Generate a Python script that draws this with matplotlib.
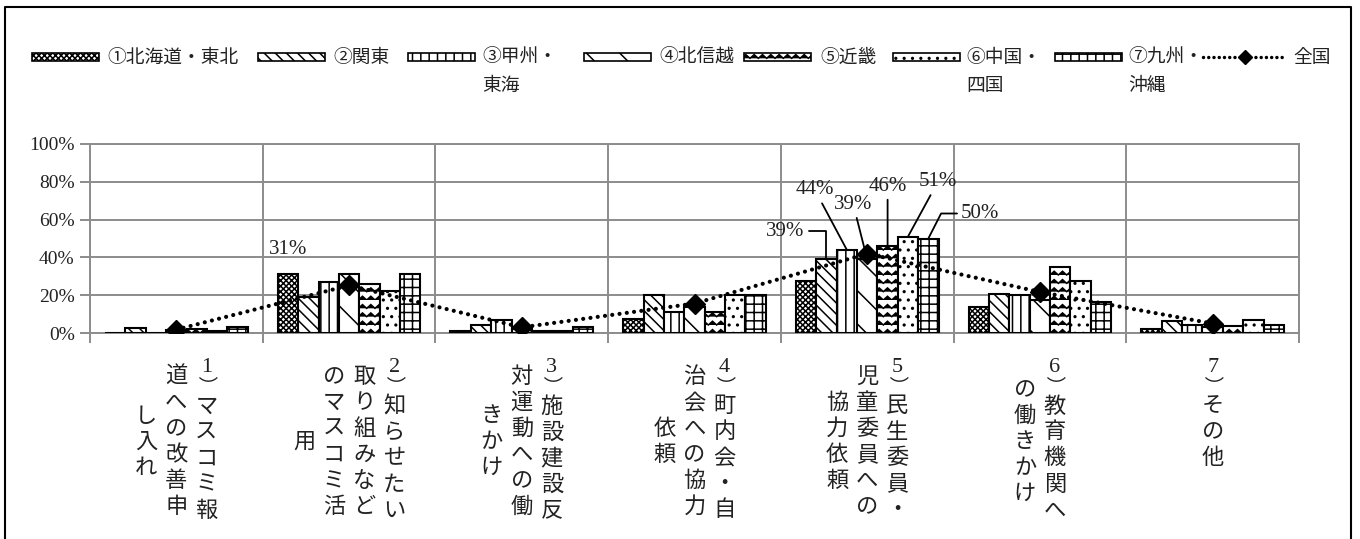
import numpy as np
import matplotlib
matplotlib.use("Agg")
import matplotlib.pyplot as plt
import matplotlib.hatch as mhatch
from matplotlib.path import Path
from matplotlib.patches import Rectangle
from matplotlib.lines import Line2D
from matplotlib.ticker import PercentFormatter

# --- data -------------------------------------------------------------
regions = ["①北海道・東北", "②関東", "③甲州・\n東海", "④北信越",
           "⑤近畿", "⑥中国・\n四国", "⑦九州・\n沖縄"]
national_label = "全国"

# category labels, already broken into vertical columns (right to left)
categories = [
    ["1）マスコミ報", "道への改善申", "し入れ"],
    ["2）知らせたい", "取り組みなど", "のマスコミ活", "用"],
    ["3）施設建設反", "対運動への働", "きかけ"],
    ["4）町内会・自", "治会への協力", "依頼"],
    ["5）民生委員・", "児童委員への", "協力依頼"],
    ["6）教育機関へ", "の働きかけ"],
    ["7）その他"],
]

hokkaido_tohoku = [0.00, 0.31, 0.01, 0.075, 0.275, 0.137, 0.02]
kanto           = [0.025, 0.19, 0.04, 0.20, 0.39, 0.208, 0.064]
koshu_tokai     = [0.00, 0.27, 0.07, 0.11, 0.44, 0.20, 0.044]
hokushinetsu    = [0.015, 0.31, 0.02, 0.14, 0.39, 0.174, 0.03]
kinki           = [0.02, 0.26, 0.01, 0.11, 0.46, 0.347, 0.035]
chugoku_shikoku = [0.01, 0.22, 0.01, 0.20, 0.51, 0.275, 0.068]
kyushu_okinawa  = [0.03, 0.31, 0.03, 0.20, 0.50, 0.164, 0.04]
national        = [0.018, 0.252, 0.03, 0.156, 0.42, 0.217, 0.05]

series = [hokkaido_tohoku, kanto, koshu_tokai, hokushinetsu,
          kinki, chugoku_shikoku, kyushu_okinawa]

# which bars get a value label: (series index, category index, dx px, dy px, leader style)
labelled = [
    (0, 1, 0, 25, None),
    (1, 4, -41, 28, "angle,angleA=0,angleB=90,rad=0"),
    (2, 4, -32, 60, "arc3"),
    (3, 4, -14, 55, "arc3"),
    (4, 4, 0, 60, "arc3"),
    (5, 4, 30, 55, "arc3"),
    (6, 4, 52, 25, "angle,angleA=0,angleB=63,rad=0"),
]


# zigzag hatch for the 近畿 series (takes over the "O" hatch letter)
class ZigZagHatch(mhatch.HatchPatternBase):
    def __init__(self, hatch, density):
        self.num_lines = int(hatch.count('O') * density)
        self.per = 2 * self.num_lines + 1
        self.num_vertices = self.num_lines * self.per

    def set_vertices_and_codes(self, vertices, codes):
        n, per = self.num_lines, self.per
        xs = np.linspace(0, 1, per)
        bump = np.where(np.arange(per) % 2 == 1, 0.45 / n, 0.0)
        for k in range(n):
            sl = slice(k * per, (k + 1) * per)
            vertices[sl, 0] = xs
            vertices[sl, 1] = k / n + bump
            codes[sl] = Path.LINETO
            codes[k * per] = Path.MOVETO


mhatch._hatch_types = [h for h in mhatch._hatch_types
                       if h is not mhatch.LargeCircles] + [ZigZagHatch]

hatches = ['xxxxxx', '\\\\\\', '||', '\\', 'OO', '..', '++']
plt.rcParams['hatch.linewidth'] = 1.1

GRAY = '#8c8c8c'
TXT = '#222222'
SERIF = ['Liberation Serif', 'DejaVu Serif']
CJK = ['Noto Sans CJK JP', 'DejaVu Sans']

W, H = 1360, 539
fig = plt.figure(figsize=(W / 100, H / 100), dpi=100)
ax = fig.add_axes([90 / W, 1 - 333 / H, (1299 - 90) / W, (333 - 144) / H])

x = np.arange(len(categories))
bw = 0.118
for j, vals in enumerate(series):
    ax.bar(x + (j - 3) * bw, vals, bw, facecolor='white', edgecolor='black',
           hatch=hatches[j], lw=1.5, zorder=3)

ax.plot(x, national, color='black', ls=(0, (0.01, 1.75)), lw=3,
        dash_capstyle='round', marker='D', ms=10, zorder=5)

# value labels
for j, i, dx, dy, style in labelled:
    v = series[j][i]
    kw = {}
    if style is not None:
        kw['arrowprops'] = dict(arrowstyle='-', color='black', lw=1.3,
                                connectionstyle=style, shrinkA=1, shrinkB=0)
    ax.annotate(f"{v:.0%}", xy=(i + (j - 3) * bw, v), xytext=(dx, dy),
                textcoords='offset pixels', ha='center', va='center',
                fontsize=15, family=SERIF, color=TXT, zorder=6, **kw)

ax.set_xlim(-0.5, len(categories) - 0.5)
ax.set_ylim(0, 1)
ax.set_yticks(np.arange(0, 1.01, 0.2))
ax.yaxis.set_major_formatter(PercentFormatter(1.0, decimals=0))
ax.set_xticks(np.arange(len(categories) + 1) - 0.5)
ax.set_xticklabels([])
ax.grid(True, color=GRAY, lw=1.4)
ax.set_axisbelow(True)
for s in ax.spines.values():
    s.set_color(GRAY)
    s.set_linewidth(1.4)
ax.tick_params(length=7, width=1.4, color=GRAY, labelcolor=TXT)
ax.tick_params(axis='y', labelsize=14, pad=4)
for t in ax.get_yticklabels():
    t.set_family(SERIF)


# vertical (stacked) category labels
def adv(ch):
    if ch.isdigit():
        return 16
    if ch == '）':
        return 17
    return 26


top = 27      # px below the axis line
colgap = 30
for i, cols in enumerate(categories):
    lens = [sum(adv(c) for c in col) for col in cols]
    block = max(lens)
    n = len(cols)
    for k, col in enumerate(cols):
        dx = ((n - 1) / 2 - k) * colgap
        y = -top - (block - lens[k]) / 2
        for ch in col:
            a = adv(ch)
            cy = y - a / 2
            y -= a
            kw = dict(fontsize=16, family=CJK)
            cx, rot = dx, 0
            if ch.isdigit():
                kw = dict(fontsize=16, family=SERIF)
                cy += 1
            elif ch == '）':
                # closing bracket turned for vertical writing
                kw = dict(fontsize=14, family=CJK)
                cx, rot = dx - 2, -90
            ax.annotate(ch, xy=(i, 0), xycoords=('data', 'axes fraction'),
                        xytext=(cx, cy), textcoords='offset pixels',
                        ha='center', va='center', rotation=rot,
                        color=TXT, annotation_clip=False, **kw)

# legend drawn by hand so the wrapped labels sit like the original
swatch_x = [32, 258, 408, 584, 744, 893, 1055]
text_x = [107, 333, 482, 659, 820, 966, 1128]
for j, lab in enumerate(regions):
    fig.add_artist(Rectangle((swatch_x[j] / W, 1 - 61 / H), 67 / W, 8 / H,
                             transform=fig.transFigure, facecolor='white',
                             edgecolor='black', hatch=hatches[j], lw=1.2))
    for r, line in enumerate(lab.split('\n')):
        fig.text(text_x[j] / W, 1 - (57 + 28 * r) / H, line, ha='left',
                 va='center', fontsize=13.5, family=CJK, color=TXT)
fig.add_artist(Line2D([1203 / W, 1283 / W], [1 - 57 / H] * 2,
                      transform=fig.transFigure, color='black',
                      ls=(0, (0.01, 1.5)), lw=2.5, dash_capstyle='round'))
fig.add_artist(Line2D([1245 / W], [1 - 57 / H], transform=fig.transFigure,
                      color='black', marker='D', ms=7, ls='none'))
fig.text(1293 / W, 1 - 57 / H, national_label, ha='left', va='center',
         fontsize=13.5, family=CJK, color=TXT)

# outer frame (bottom edge is cut off in the original)
fig.add_artist(Line2D([5 / W, 5 / W, 1351 / W, 1351 / W],
                      [-0.01, 1 - 7 / H, 1 - 7 / H, -0.01],
                      transform=fig.transFigure, color='black', lw=1.5))

fig.savefig("out.png", dpi=100)
